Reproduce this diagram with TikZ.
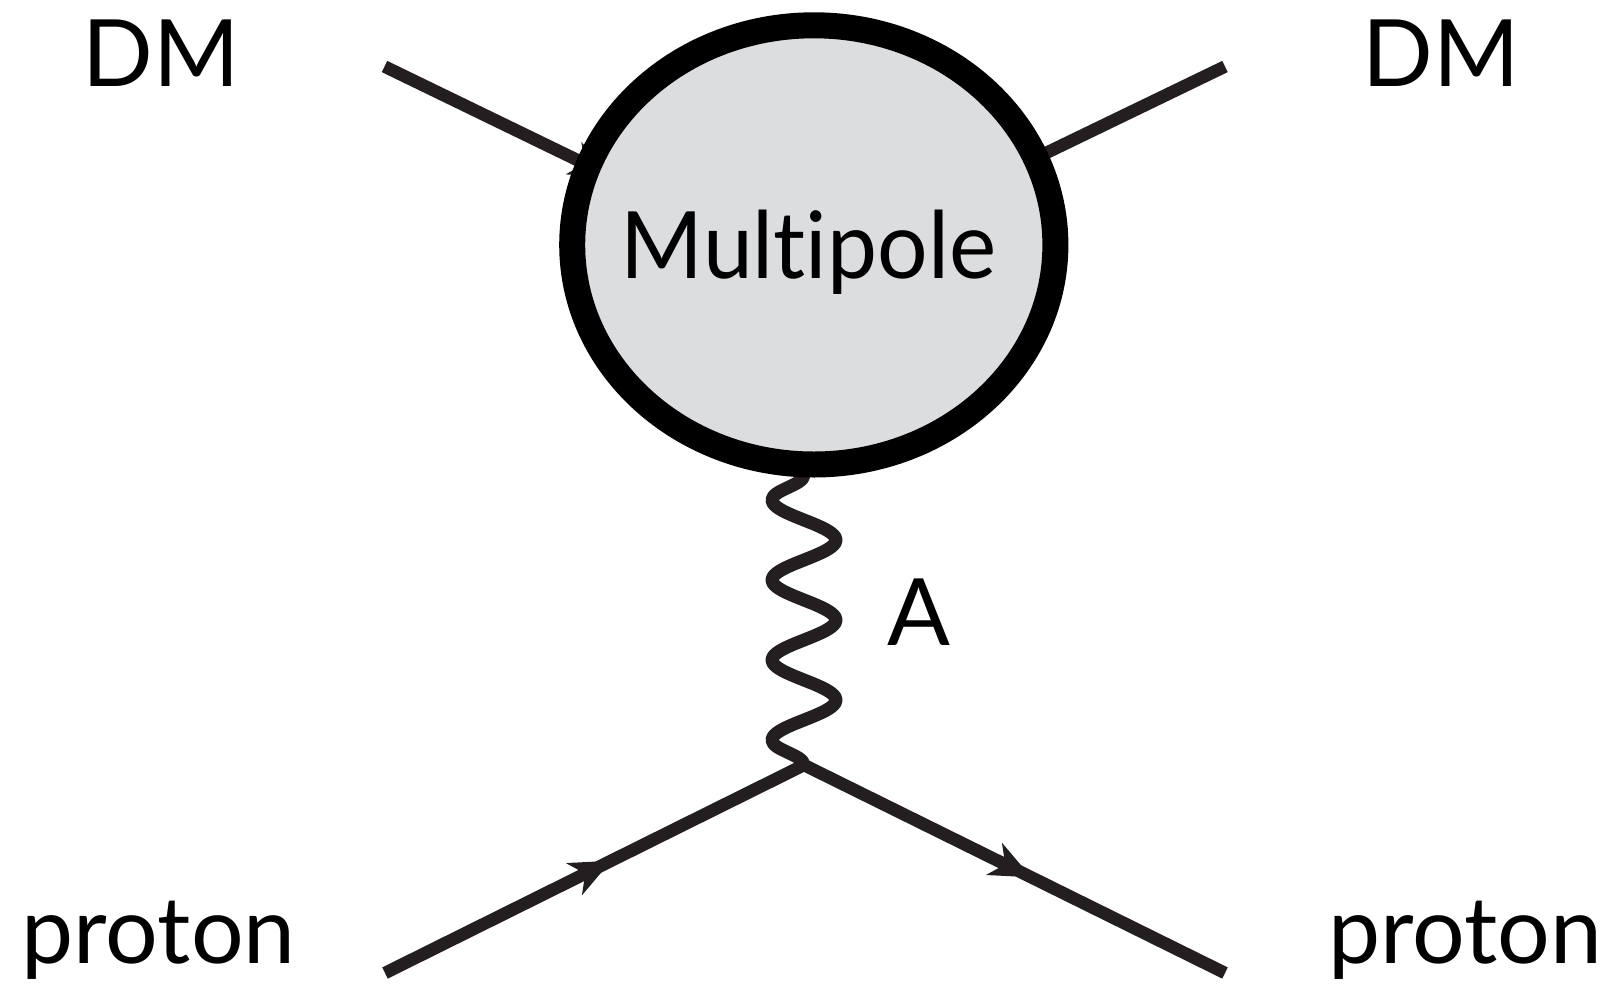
\documentclass[tikz,border=0pt]{standalone}
\usepackage{fontspec}
\setmainfont{Lato}[Ligatures={NoCommon}]
\usetikzlibrary{shapes.geometric,arrows.meta,decorations.markings,decorations.pathmorphing}
\definecolor{lineC}{HTML}{231F20}
\definecolor{blobfill}{HTML}{DCDDDF}
\pgfdeclarelayer{background}
\pgfsetlayers{background,main}
\begin{document}
\begin{tikzpicture}[x=1pt,y=-1pt,
  fline/.style={line width=12.5pt,draw=lineC,line cap=butt},
  arrowmid/.style={postaction={decorate},decoration={markings,
     mark=at position 0.54 with {\arrow[lineC]{Stealth[length=41pt,width=35pt,inset=12pt]}}}},
  wave/.style={line width=13pt,draw=lineC,line cap=round,line join=round,
     decorate,decoration={snake,segment length=80pt,amplitude=32pt}},
  blob/.style={ellipse,draw=black,fill=blobfill,line width=26pt,inner sep=0pt,outer sep=0pt,
     minimum width=483.2pt,minimum height=439.2pt},
  lbl/.style={font=\fontsize{93}{100}\selectfont,text=black,anchor=base,inner sep=0pt}]
\useasboundingbox (0,0) rectangle (1610,988);
\node[blob] (blob) at (813.8,244.9) {};
\coordinate (vtop) at (804,270);
\coordinate (vtx) at (804,765);
\coordinate (dmin) at (384.5,66.5);
\coordinate (dmout) at (1225,66.5);
\coordinate (pin) at (385,973);
\coordinate (pout) at (1225,973);
\coordinate (wtop) at (blob.south -| vtx);
\begin{pgfonlayer}{background}
\draw[fline,arrowmid] (dmin) -- (vtop);
\draw[fline,arrowmid] (vtop) -- (dmout);
\draw[fline,arrowmid] (pin) -- (vtx);
\draw[fline,arrowmid] (vtx) -- (pout);
\draw[wave] (vtx) -- (wtop);
\end{pgfonlayer}
\node[lbl] (mp) at (808.5,278) {\scalebox{0.96}[1]{Multipole}};
\node[lbl] (dml) at (161,86) {DM};
\node[lbl] (dmr) at (1441,86) {DM};
\node[lbl] (pl) at (158.6,963) {proton};
\node[lbl] (pr) at (1465.5,963) {proton};
\node[lbl] (la) at (918.5,645) {A};
\end{tikzpicture}
\end{document}
